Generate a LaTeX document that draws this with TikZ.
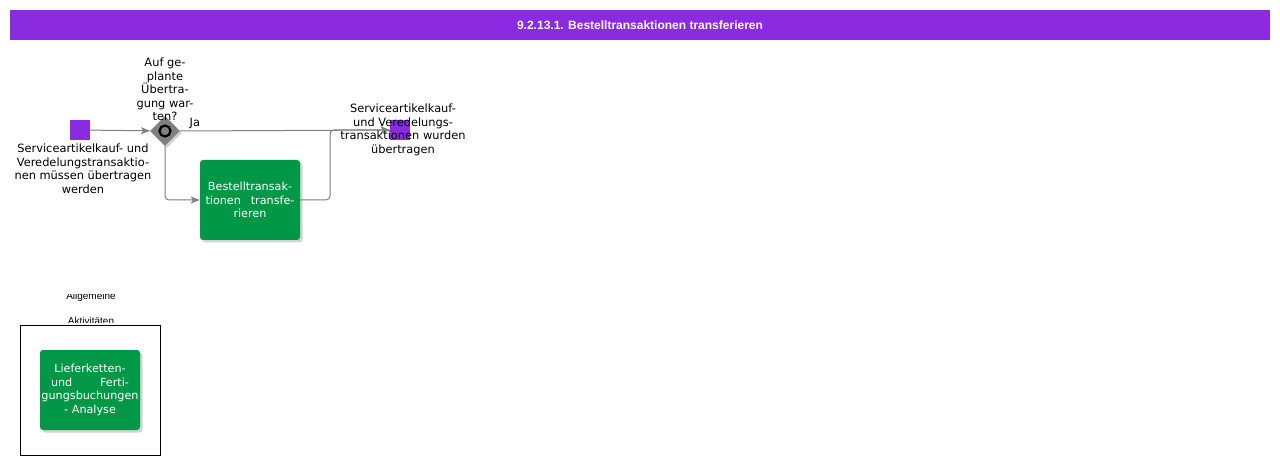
\documentclass[tikz,border=0pt]{standalone}
\usepackage{fontspec}
\setmainfont{DejaVu Sans}
\newfontfamily\arialfont{Liberation Sans}
\usetikzlibrary{arrows.meta,shapes.geometric,shadows,calc}

\definecolor{evpurple}{HTML}{8A2BE2}
\definecolor{taskgreen}{HTML}{009846}
\definecolor{flowgray}{HTML}{808080}

\tikzset{
  event/.style={rectangle, fill=evpurple, minimum size=20pt, inner sep=0pt},
  task/.style={rectangle, rounded corners=3pt, fill=taskgreen, text=white,
    minimum width=100pt, minimum height=80pt, inner sep=0pt, align=center,
    font=\fontsize{11.2}{13.5}\selectfont,
    drop shadow={shadow xshift=2.5pt, shadow yshift=-2.5pt, opacity=0.35}},
  gateway/.style={diamond, fill=flowgray, minimum size=30pt, inner sep=0pt,
    drop shadow={shadow xshift=2pt, shadow yshift=-2pt, opacity=0.35}},
  flow/.style={draw=flowgray, line width=1pt, rounded corners=4pt,
    -{Stealth[length=9pt,width=7pt,inset=2pt]}},
  lbl/.style={font=\fontsize{11.4}{13.5}\selectfont, align=center, inner sep=0pt},
  small/.style={font=\arialfont\fontsize{10}{12}\selectfont, inner sep=0pt, anchor=base}
}

\begin{document}
\begin{tikzpicture}[x=1pt,y=-1pt]
    \useasboundingbox (0,0) rectangle (1280,465);

    % header
    \node[fill=evpurple, minimum width=1260pt, minimum height=30pt, inner sep=0pt,
      text=white, font=\arialfont\bfseries\fontsize{12}{14}\selectfont] (header) at (640,25)
      {9.2.13.1. Bestelltransaktionen transferieren};

    % process
    \node[event] (start) at (80,130) {};
    \node[lbl, anchor=north] (startlbl) at (83,144)
      {Serviceartikelkauf- und\\Veredelungstransaktio-\\nen müssen übertragen\\werden};

    \node[gateway] (gw) at (165,131) {};
    \draw[line width=2.2pt, fill=flowgray] (gw.center) circle (5.5pt);
    \node[lbl, anchor=south] (gwlbl) at (165,121)
      {Auf ge-\\plante\\Übertra-\\gung war-\\ten?};

    \node[task, text width=89pt] (task) at (250,200)
      {Bestelltransak-\\\makebox[89pt][s]{tionen\hspace{\fill}transfe-}\\rieren};

    \node[event] (end) at (400,130) {};
    \coordinate (merge) at (330,130);

    \draw[flow] (start) -- (gw);
    \draw[flow] (gw.east) -- node[lbl, at start, anchor=south west, xshift=9pt, yshift=2pt] {Ja} (end.west);
    \draw[flow] (gw.south) |- (task.west);
    \draw[flow] (task.east) -| (merge) -- (end.west);

    \node[lbl] (endlbl) at (403,130)
      {Serviceartikelkauf-\\und Veredelungs-\\transaktionen wurden\\übertragen};

    % legend
    \begin{scope}
      \clip (20,294.5) rectangle (160,322.5);
      \node[small] (allg) at (91,299.5) {Allgemeine};
      \node[small] (akt) at (91,324.5) {Aktivitäten};
    \end{scope}
    \node[draw=black, line width=0.8pt, minimum width=140pt, minimum height=130pt, inner sep=0pt] (group) at (90,390) {};
    \node[task, text width=78pt] (analyse) at (90,390)
      {Lieferketten-\\\makebox[78pt][s]{und\hspace{\fill}Ferti-}\\\makebox[78pt]{gungsbuchungen}\\- Analyse};

  \end{tikzpicture}
\end{document}
